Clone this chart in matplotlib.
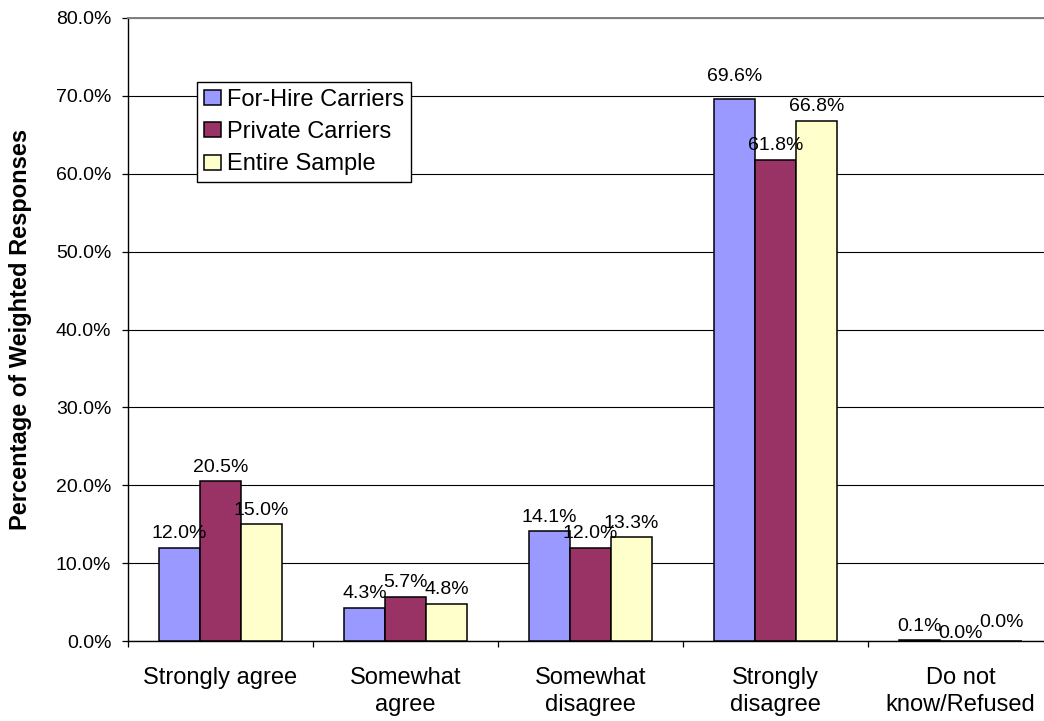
import matplotlib
matplotlib.use("Agg")
import matplotlib.pyplot as plt
import numpy as np

categories = ["Strongly agree", "Somewhat\nagree", "Somewhat\ndisagree",
              "Strongly\ndisagree", "Do not\nknow/Refused"]
series = ["For-Hire Carriers", "Private Carriers", "Entire Sample"]
for_hire = [12.0, 4.3, 14.1, 69.6, 0.1]
private = [20.5, 5.7, 12.0, 61.8, 0.0]
entire = [15.0, 4.8, 13.3, 66.8, 0.0]
yticks = [0, 10, 20, 30, 40, 50, 60, 70, 80]

colors = ["#9999FF", "#993366", "#FFFFCC"]
# Excel nudged a few of the crowded labels (points, per series/category)
label_nudge = {(1, 4): -5, (2, 4): 3, (0, 3): 6}

plt.rcParams["font.family"] = ["Liberation Sans", "DejaVu Sans"]

fig = plt.figure(figsize=(10.44, 7.21), dpi=100)
ax = fig.add_axes([128 / 1044, 80 / 721, 925 / 1044, 623 / 721])

x = np.arange(len(categories))
w = 0.2216
for i, (name, vals) in enumerate(zip(series, [for_hire, private, entire])):
    pos = x + (i - 1) * w
    ax.bar(pos, vals, width=w, color=colors[i], edgecolor="black",
           linewidth=1.1, label=name, zorder=3)
    for j, v in enumerate(vals):
        dy = 4 + label_nudge.get((i, j), 0)
        ax.annotate(f"{v:.1f}%", (pos[j], v), xytext=(0, dy),
                    textcoords="offset points", ha="center", va="bottom",
                    fontsize=14, zorder=4)

ax.set_xlim(-0.5, len(categories) - 0.5)
ax.set_ylim(0, 80)
ax.set_yticks(yticks)
ax.set_yticklabels([f"{t:.1f}%" for t in yticks])
ax.yaxis.grid(True, color="black", linewidth=0.8)
ax.set_axisbelow(True)

ax.set_xticks(np.arange(len(categories) + 1) - 0.5)
ax.set_xticklabels([])
ax.set_xticks(x, minor=True)
ax.set_xticklabels(categories, minor=True, fontsize=17, linespacing=1.25)
ax.tick_params(axis="x", which="major", length=4.5, width=0.9, direction="out")
ax.tick_params(axis="x", which="minor", length=0, pad=19)
ax.tick_params(axis="y", length=4.5, width=0.9, pad=7.5, labelsize=14)

ax.spines["right"].set_visible(False)
ax.spines["top"].set_color("#808080")
ax.spines["top"].set_linewidth(1.4)
ax.spines["left"].set_linewidth(1.0)
ax.spines["bottom"].set_linewidth(1.0)

ax.set_ylabel("Percentage of Weighted Responses", fontsize=17, fontweight="bold")
ax.yaxis.set_label_coords(-0.1035, 0.5)

leg = ax.legend(loc="upper left", bbox_to_anchor=(197 / 1044, 1 - 82 / 721),
                bbox_transform=fig.transFigure, borderaxespad=0, fontsize=17,
                frameon=True, fancybox=False, framealpha=1, edgecolor="black",
                handlelength=0.7, handleheight=0.6, handletextpad=0.25,
                borderpad=0.3, labelspacing=0.43)
leg.get_frame().set_linewidth(1.0)

fig.savefig("out.png", dpi=100)
